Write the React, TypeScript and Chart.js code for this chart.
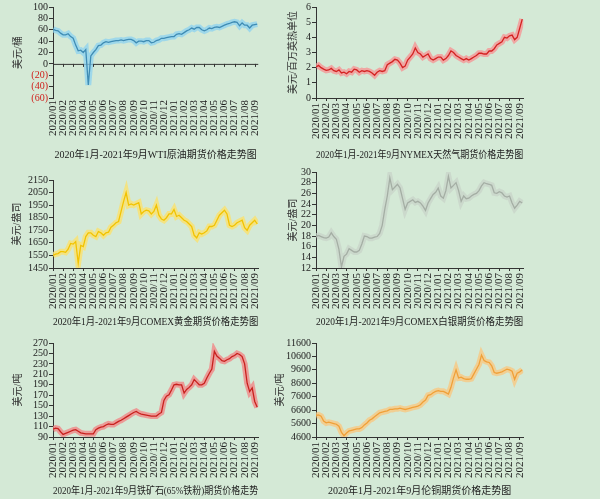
import React, { useEffect, useRef } from "react";
import { Chart, registerables } from "chart.js";

Chart.register(...registerables);

// ---------------- data ----------------
const monthLabels = [
  "2020/01", "2020/02", "2020/03", "2020/04", "2020/05", "2020/06", "2020/07",
  "2020/08", "2020/09", "2020/10", "2020/11", "2020/12", "2021/01", "2021/02",
  "2021/03", "2021/04", "2021/05", "2021/06", "2021/07", "2021/08", "2021/09",
];
// weekly readings (4 per month), Jan 2020 .. mid Sep 2021
const samplesPerMonth = 4;

const wtiValues = [
  61, 59, 58, 54, 51, 51, 53, 48, 45, 33, 23, 24, 20, 25, -37, 14,
  20, 25, 32, 33, 37, 39, 38, 39, 40, 41, 41, 42, 41, 42, 43, 43,
  41, 37, 40, 40, 39, 41, 41, 37, 38, 41, 42, 45, 45, 46, 47, 48,
  48, 52, 53, 52, 55, 58, 60, 63, 61, 64, 64, 60, 58, 60, 63, 62,
  64, 65, 64, 66, 68, 70, 71, 73, 74, 73, 67, 72, 68, 68, 63, 68,
  69, 70,
];
const gasValues = [
  2.05, 2.15, 2.0, 1.9, 1.82, 1.85, 1.95, 1.8, 1.75, 1.85, 1.65, 1.7,
  1.6, 1.75, 1.7, 1.9, 1.85, 1.7, 1.8, 1.75, 1.8, 1.75, 1.65, 1.5,
  1.7, 1.8, 1.75, 1.8, 2.2, 2.3, 2.4, 2.55, 2.5, 2.3, 2.0, 2.1,
  2.5, 2.7, 2.9, 3.3, 3.0, 2.9, 2.7, 2.8, 2.9, 2.6, 2.5, 2.6,
  2.7, 2.7, 2.5, 2.6, 2.8, 3.1, 3.0, 2.8, 2.7, 2.6, 2.5, 2.6,
  2.5, 2.6, 2.7, 2.8, 2.95, 2.95, 2.9, 2.9, 3.1, 3.1, 3.25, 3.5,
  3.6, 3.7, 4.0, 3.95, 4.1, 4.15, 3.85, 4.0, 4.6, 5.2,
];
const goldValues = [
  1550, 1560, 1565, 1580, 1580, 1575, 1600, 1645, 1640, 1660, 1490, 1630,
  1620, 1700, 1730, 1730, 1710, 1700, 1740, 1730, 1710, 1730, 1735, 1775,
  1790, 1810, 1820, 1900, 1980, 2050, 1950, 1960, 1950, 1960, 1970, 1880,
  1900, 1910, 1905, 1880, 1900, 1950, 1870, 1840, 1830, 1850, 1880, 1880,
  1915, 1860, 1870, 1850, 1830, 1820, 1800, 1780, 1710, 1690, 1730, 1720,
  1730, 1745, 1780, 1780, 1790, 1830, 1870, 1890, 1910, 1880, 1790, 1780,
  1790, 1810, 1820, 1830, 1770, 1750, 1790, 1810, 1830, 1800,
];
const silverValues = [
  17.9, 18.1, 17.9, 17.7, 17.6, 17.8, 18.6, 17.9, 17.4, 15.5, 12.2, 14.2,
  14.6, 15.6, 15.3, 15.0, 15.0, 15.3, 16.5, 18.0, 17.9, 17.6, 17.6, 17.8,
  17.9, 18.5, 20.0, 23.0, 25.5, 28.9, 26.7, 27.2, 27.7, 27.0, 25.0, 23.0,
  24.2, 24.5, 24.8, 24.3, 24.5, 24.2, 23.6, 22.8, 24.2, 25.0, 25.8, 26.2,
  27.0, 25.5, 25.1, 26.5, 29.2, 27.0, 27.5, 28.0, 26.5, 24.5, 25.5, 25.0,
  25.1, 25.5, 25.8, 26.0, 26.5, 27.4, 28.0, 27.8, 27.7, 27.5, 26.1, 26.0,
  26.3, 26.1, 25.5, 25.3, 25.5, 24.2, 23.2, 23.8, 24.5, 24.2,
];
const ironValues = [
  105, 107, 106, 100, 95, 97, 99, 101, 103, 104, 101, 98,
  97, 96, 96, 96, 96, 104, 107, 109, 110, 113, 115, 114,
  114, 117, 120, 122, 125, 128, 131, 134, 137, 139, 136, 134,
  133, 132, 131, 130, 130, 130, 134, 137, 160, 168, 171, 180,
  190, 191, 190, 190, 174, 181, 185, 190, 200, 195, 190, 190,
  193, 203, 212, 220, 254, 245, 241, 236, 235, 238, 240, 244,
  246, 250, 248, 244, 230, 193, 177, 184, 158, 147,
];
const copperValues = [
  6200, 6250, 6150, 5780, 5650, 5700, 5650, 5600, 5550, 5400, 4950, 4700,
  4900, 5050, 5100, 5150, 5200, 5200, 5300, 5500, 5650, 5850, 5950, 6100,
  6250, 6400, 6450, 6500, 6550, 6650, 6650, 6700, 6700, 6750, 6700, 6650,
  6700, 6750, 6800, 6850, 6900, 7000, 7200, 7350, 7700, 7750, 7900, 8000,
  8050, 8000, 8000, 7900, 7800, 8300, 9000, 9600, 9000, 9050, 8950, 8900,
  8900, 8950, 9300, 9650, 10000, 10700, 10300, 10200, 10150, 9900, 9400, 9350,
  9400, 9450, 9550, 9650, 9600, 9500, 8900, 9350, 9450, 9600,
];

// ---------------- style ----------------
const FONT = "'Liberation Serif', 'Noto Sans CJK SC', serif";
const BG = "#d4e9d6";
const AXIS = "#333333";

type PanelCfg = {
  key: string;
  values: number[];
  title: string;
  yTitle: string;
  yMin: number;
  yMax: number;
  yStep: number;
  line: string;
  glow: string;
  left: number;
  top: number;
  width: number;
  height: number;
  padTop: number;
  axisWidth: number;
  yTitlePad: number;
  xHeight: number;
  titlePad: { top: number; bottom: number };
  zeroAxis?: boolean;
};

const panels: PanelCfg[] = [
  {
    key: "wti", values: wtiValues, title: "2020年1月-2021年9月WTI原油期货价格走势图",
    yTitle: "美元/桶", yMin: -60, yMax: 100, yStep: 20, line: "#3f8cb4", glow: "rgba(140,210,240,0.75)",
    left: 0, top: 0, width: 270, height: 165, padTop: 7, axisWidth: 53, yTitlePad: 12,
    xHeight: 48, titlePad: { top: 3, bottom: 4 }, zeroAxis: true,
  },
  {
    key: "gas", values: gasValues, title: "2020年1月-2021年9月NYMEX天然气期货价格走势图",
    yTitle: "美元/百万英热单位", yMin: 0, yMax: 6, yStep: 1, line: "#d42222", glow: "rgba(245,150,150,0.8)",
    left: 268, top: 0, width: 267, height: 165, padTop: 5, axisWidth: 48, yTitlePad: 19,
    xHeight: 48, titlePad: { top: 3, bottom: 4 },
  },
  {
    key: "gold", values: goldValues, title: "2020年1月-2021年9月COMEX黄金期货价格走势图",
    yTitle: "美元/盎司", yMin: 1450, yMax: 2150, yStep: 100, line: "#f2c300", glow: "rgba(250,225,110,0.8)",
    left: 0, top: 165, width: 270, height: 165, padTop: 15, axisWidth: 53, yTitlePad: 11,
    xHeight: 45, titlePad: { top: 3, bottom: 2 },
  },
  {
    key: "silver", values: silverValues, title: "2020年1月-2021年9月COMEX白银期货价格走势图",
    yTitle: "美元/盎司", yMin: 12, yMax: 30, yStep: 2, line: "#a4aea4", glow: "rgba(200,210,200,0.7)",
    left: 268, top: 165, width: 267, height: 165, padTop: 3, axisWidth: 48, yTitlePad: 19,
    xHeight: 45, titlePad: { top: 3, bottom: 2 },
  },
  {
    key: "iron", values: ironValues, title: "2020年1月-2021年9月铁矿石(65%铁粉)期货价格走势",
    yTitle: "美元/吨", yMin: 90, yMax: 270, yStep: 20, line: "#c8201e", glow: "rgba(240,135,135,0.8)",
    left: 0, top: 330, width: 270, height: 169, padTop: 13, axisWidth: 53, yTitlePad: 12,
    xHeight: 45, titlePad: { top: 3, bottom: 2 },
  },
  {
    key: "copper", values: copperValues, title: "2020年1月-2021年9月伦铜期货价格走势图",
    yTitle: "美元/吨", yMin: 4600, yMax: 11600, yStep: 1000, line: "#f0a038", glow: "rgba(248,200,130,0.8)",
    left: 268, top: 330, width: 267, height: 169, padTop: 13, axisWidth: 48, yTitlePad: 6,
    xHeight: 45, titlePad: { top: 3, bottom: 2 },
  },
];

const zeroAxisPlugin = {
  id: "zeroAxis",
  beforeDatasetsDraw(chart: any) {
    const { ctx, scales } = chart;
    const x = scales.x;
    const y = scales.y;
    const y0 = y.getPixelForValue(0);
    ctx.save();
    ctx.strokeStyle = AXIS;
    ctx.lineWidth = 1;
    ctx.beginPath();
    ctx.moveTo(x.left, y0 + 0.5);
    ctx.lineTo(x.right, y0 + 0.5);
    x.ticks.forEach((t: any) => {
      const px = Math.round(x.getPixelForValue(t.value)) + 0.5;
      ctx.moveTo(px, y0);
      ctx.lineTo(px, y0 + 3);
    });
    ctx.stroke();
    ctx.restore();
  },
};

function Panel({ cfg }: { cfg: PanelCfg }) {
  const ref = useRef<HTMLCanvasElement>(null);
  useEffect(() => {
    const points = cfg.values.map((v, i) => ({ x: i / samplesPerMonth, y: v }));
    const chart = new Chart(ref.current as HTMLCanvasElement, {
      type: "line",
      data: {
        datasets: [
          {
            data: points, borderColor: cfg.line, borderWidth: 1.3, pointRadius: 0,
            tension: 0, order: 1,
          },
          {
            data: points, borderColor: cfg.glow, borderWidth: 6, pointRadius: 0,
            tension: 0, order: 2,
          },
        ],
      },
      options: {
        responsive: false,
        animation: false,
        devicePixelRatio: 1,
        layout: { padding: { top: cfg.padTop, right: 5, left: 0, bottom: 0 } },
        plugins: {
          legend: { display: false },
          tooltip: { enabled: false },
          title: {
            display: true,
            text: cfg.title,
            position: "bottom",
            fullSize: false,
            color: "#222",
            font: { family: FONT, size: 10, weight: "normal" },
            padding: cfg.titlePad,
          },
        },
        scales: {
          x: {
            type: "linear",
            min: 0,
            max: 20.35,
            afterBuildTicks: (scale: any) => {
              scale.ticks = monthLabels.map((_, i) => ({ value: i }));
            },
            afterFit: (scale: any) => {
              scale.height = cfg.xHeight;
            },
            border: { display: !cfg.zeroAxis, color: AXIS },
            grid: {
              drawOnChartArea: false,
              drawTicks: !cfg.zeroAxis,
              tickLength: 3,
              tickColor: AXIS,
            },
            ticks: {
              autoSkip: false,
              maxRotation: 90,
              minRotation: 90,
              padding: 2,
              color: "#222",
              font: { family: FONT, size: 11 },
              callback: (v: any) => monthLabels[v as number] ?? "",
            },
          },
          y: {
            min: cfg.yMin,
            max: cfg.yMax,
            afterFit: (scale: any) => {
              scale.width = cfg.axisWidth;
            },
            border: { display: true, color: AXIS },
            grid: { drawOnChartArea: false, drawTicks: true, tickLength: 4, tickColor: AXIS },
            ticks: {
              stepSize: cfg.yStep,
              autoSkip: false,
              padding: 1,
              font: { family: FONT, size: 10 },
              color: (c: any) => (c.tick && c.tick.value < 0 ? "#d0201c" : "#222"),
              callback: (v: any) => (v < 0 ? `(${-v})` : `${v}`),
            },
            title: {
              display: true,
              text: cfg.yTitle,
              color: "#333",
              font: { family: FONT, size: 10 },
              padding: { top: cfg.yTitlePad, bottom: 0 },
            },
          },
        },
      },
      plugins: cfg.zeroAxis ? [zeroAxisPlugin] : [],
    } as any);
    return () => chart.destroy();
  }, [cfg]);
  return (
    <canvas
      ref={ref}
      width={cfg.width}
      height={cfg.height}
      style={{ position: "absolute", left: cfg.left, top: cfg.top, width: cfg.width, height: cfg.height }}
    />
  );
}

export default function App() {
  useEffect(() => {
    document.body.style.margin = "0";
    document.body.style.background = BG;
  }, []);
  return (
    <div style={{ position: "fixed", left: 0, top: 0, width: 600, height: 499, background: BG, overflow: "hidden" }}>
      {panels.map((p) => (
        <Panel key={p.key} cfg={p} />
      ))}
    </div>
  );
}
